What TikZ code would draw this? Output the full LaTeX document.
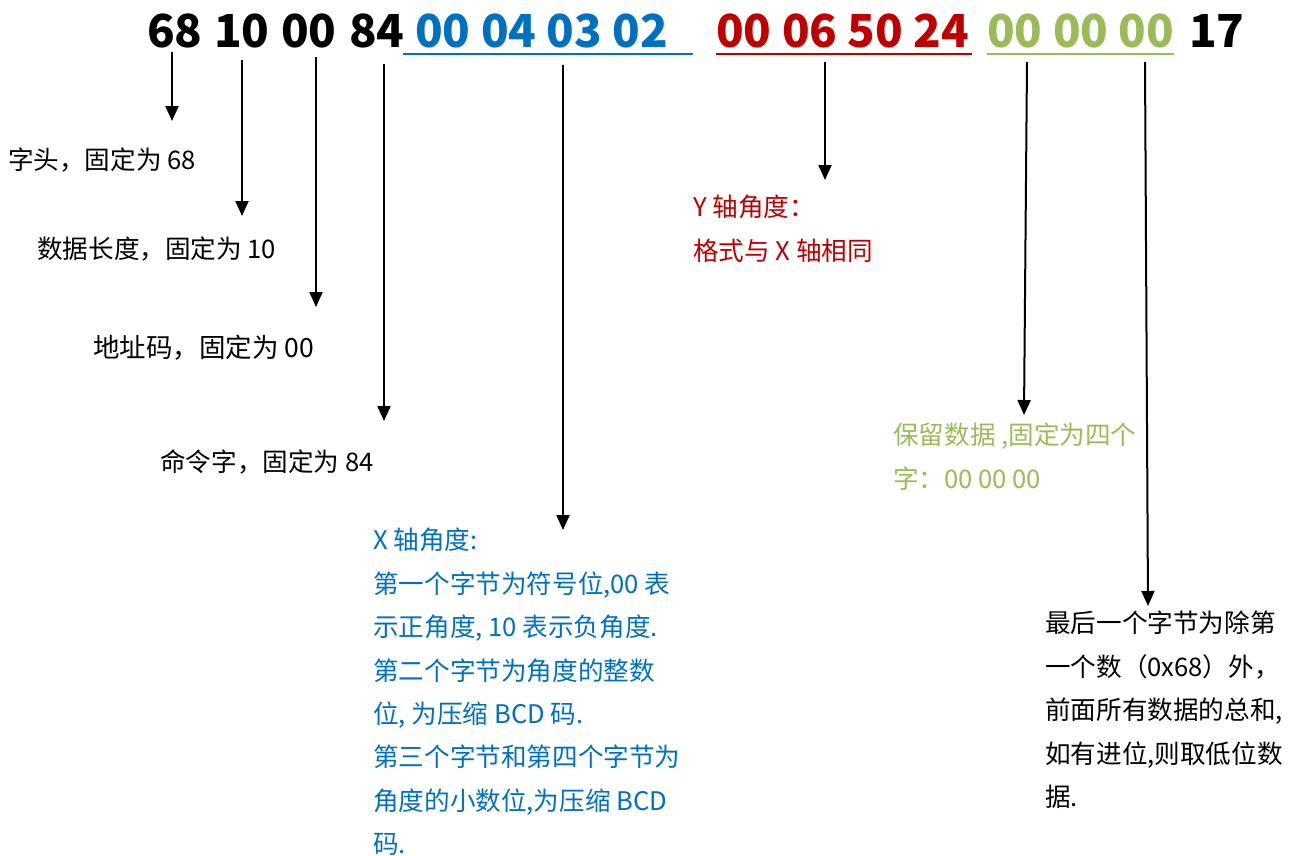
\documentclass[tikz,border=0pt]{standalone}
\usepackage{fontspec}
\setmainfont{Noto Sans CJK SC}
\usetikzlibrary{arrows.meta}
\definecolor{cblue}{HTML}{0070C0}
\definecolor{cred}{HTML}{C00000}
\definecolor{cgreen}{HTML}{9BBB59}
\tikzset{
  hdr/.style={anchor=base west,inner sep=0pt,font=\fontsize{45.5}{50}\selectfont\bfseries},
  lbl/.style={anchor=north west,inner sep=0pt,align=left,font=\fontsize{25.6}{43.4}\selectfont},
  arr/.style={line width=2pt,-{Triangle[width=13pt,length=15pt]}},
  uline/.style={line width=2.2pt}
}
\begin{document}
\begin{tikzpicture}[x=1pt,y=-1pt]
\useasboundingbox (0,0) rectangle (1291,855);
% header
\node[hdr] (h68) at (147,47) {68};
\node[hdr] (h10) at (214,47) {10};
\node[hdr] (h00) at (281,47) {00};
\node[hdr] (h84) at (349,47) {84};
\node[hdr,text=cblue] (hx) at (415,47) {00 04 03 02};
\node[hdr,text=cred] (hy) at (716,47) {00 06 50 24};
\node[hdr,text=cgreen] (hr) at (987,47) {00 00 00};
\node[hdr] (h17) at (1189,47) {17};
% underlines
\coordinate (ubl) at (403,54); \coordinate (ubr) at (693,54);
\coordinate (url) at (716,54); \coordinate (urr) at (972,54);
\coordinate (ugl) at (987,54); \coordinate (ugr) at (1174,54);
\draw[uline,cblue] (ubl) -- (ubr);
\draw[uline,cred] (url) -- (urr);
\draw[uline,cgreen] (ugl) -- (ugr);
% labels
\node[lbl] (l68) at (8,148) {字头，固定为 68};
\node[lbl] (l10) at (37,237) {数据长度，固定为 10};
\node[lbl,font=\fontsize{26.5}{43.4}\selectfont] (l00) at (93,335) {地址码，固定为 00};
\node[lbl] (l84) at (160,449) {命令字，固定为 84};
\node[lbl,text=cblue] (lx) at (373,528) {X 轴角度:\\第一个字节为符号位,00 表\\示正角度, 10 表示负角度.\\第二个字节为角度的整数\\位, 为压缩 BCD 码.\\第三个字节和第四个字节为\\角度的小数位,为压缩 BCD\\码.};
\node[lbl,text=cred] (ly) at (693,195) {Y 轴角度：\\格式与 X 轴相同};
\node[lbl,text=cgreen] (lr) at (893,423) {保留数据 ,固定为四个\\字：00 00 00};
\node[lbl] (ls) at (1045,611) {最后一个字节为除第\\一个数（0x68）外，\\前面所有数据的总和,\\如有进位,则取低位数\\据.};
% arrows
\coordinate (s1) at (172,52);  \coordinate (e1) at (172,121);
\coordinate (s2) at (242,60);  \coordinate (e2) at (242,216);
\coordinate (s3) at (316,57);  \coordinate (e3) at (316,307);
\coordinate (s4) at (384,64);  \coordinate (e4) at (384,421);
\coordinate (s5) at (563,65);  \coordinate (e5) at (563,530);
\coordinate (s6) at (825,62);  \coordinate (e6) at (825,180);
\coordinate (s7) at (1027,62); \coordinate (e7) at (1024,415);
\coordinate (s8) at (1145,62); \coordinate (e8) at (1148,606);
\foreach \i in {1,...,8} \draw[arr] (s\i) -- (e\i);
\end{tikzpicture}
\end{document}
